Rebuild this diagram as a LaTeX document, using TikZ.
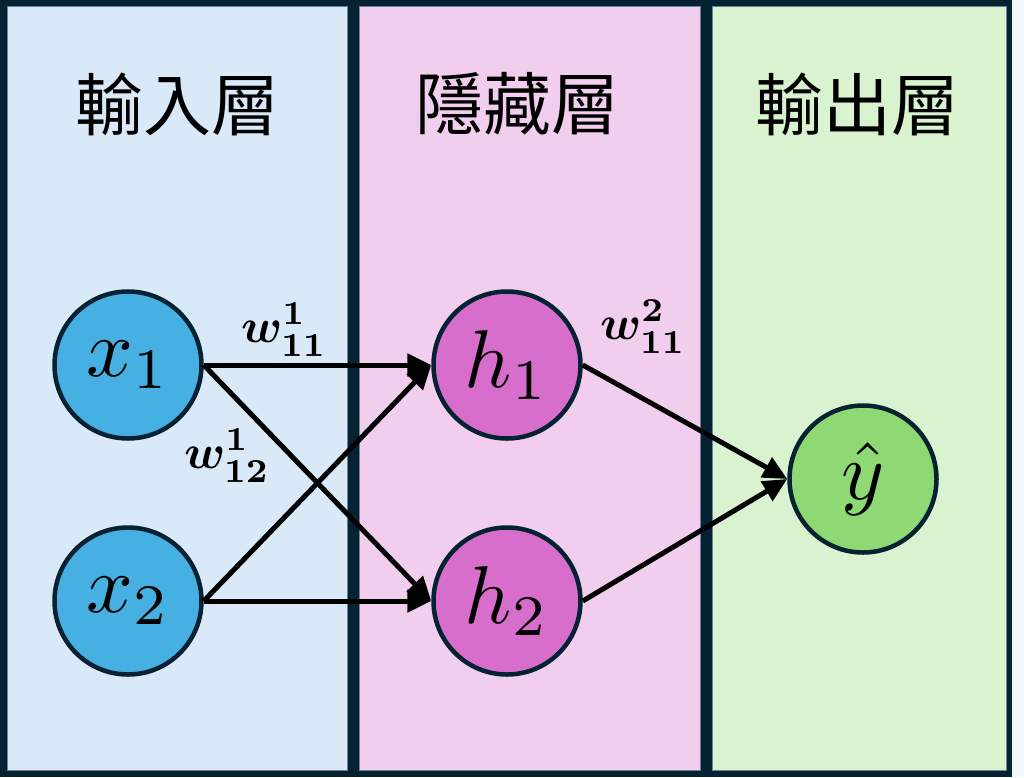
\documentclass[tikz,border=0pt]{standalone}
\usepackage{fontspec}
\usetikzlibrary{arrows.meta}
\newfontfamily\cjk{Noto Sans CJK TC}
\definecolor{darkbg}{RGB}{5,34,51}
\definecolor{panelblue}{RGB}{218,233,247}
\definecolor{panelpink}{RGB}{242,206,238}
\definecolor{panelgreen}{RGB}{217,242,208}
\definecolor{nodeblue}{RGB}{69,176,225}
\definecolor{nodepink}{RGB}{216,110,204}
\definecolor{nodegreen}{RGB}{142,217,115}
\definecolor{paneledge}{RGB}{110,130,150}
\definecolor{margincol}{RGB}{244,247,250}
\newcommand{\bigmath}[1]{\scalebox{8.2}{$#1$}}
\newcommand{\wmath}[1]{\scalebox{4.8}{\boldmath$#1$}}
\begin{document}
\begin{tikzpicture}[x=1pt,y=-1pt,
  panel/.style={draw=paneledge,line width=0.8pt},
  neuron/.style={circle,draw=darkbg,line width=4.5pt,minimum size=147pt,inner sep=0pt},
  conn/.style={line width=5pt,black,-{Triangle[length=24pt,width=22pt]}},
  title/.style={font=\cjk\fontsize{68}{80}\selectfont,inner sep=0pt},
  wlabel/.style={inner sep=0pt}]
\useasboundingbox (0,0) rectangle (1024,777);
\fill[margincol] (1012,0) rectangle (1024,777);
\fill[darkbg] (0,0) rectangle (1012,777);
\filldraw[panel,fill=panelblue] (7,6) rectangle (347,770);
\filldraw[panel,fill=panelpink] (359,6) rectangle (700,770);
\filldraw[panel,fill=panelgreen] (712,6) rectangle (1006,770);
\node[title] (t1) at (177,104) {輸入層};
\node[title] (t2) at (517,104) {隱藏層};
\node[title] (t3) at (857,104) {輸出層};
\node[neuron,fill=nodeblue] (x1) at (128,365) {\bigmath{x_1}};
\node[neuron,fill=nodeblue] (x2) at (128,601) {\bigmath{x_2}};
\node[neuron,fill=nodepink] (h1) at (507,365) {\bigmath{h_1}};
\node[neuron,fill=nodepink] (h2) at (507,601) {\bigmath{h_2}};
\node[neuron,fill=nodegreen] (y) at (863,479) {\bigmath{\hat{y}}};
\draw[conn] (x1.east) -- (h1.west);
\draw[conn] (x1.east) -- (h2.west);
\draw[conn] (x2.east) -- (h1.west);
\draw[conn] (x2.east) -- (h2.west);
\draw[conn] (h1.east) -- (y.west);
\draw[conn] (h2.east) -- (y.west);
\node[wlabel] (w1) at (284,330) {\wmath{w^{1}_{11}}};
\node[wlabel] (w2) at (227,456) {\wmath{w^{1}_{12}}};
\node[wlabel] (w3) at (643,327) {\wmath{w^{2}_{11}}};
\end{tikzpicture}
\end{document}
